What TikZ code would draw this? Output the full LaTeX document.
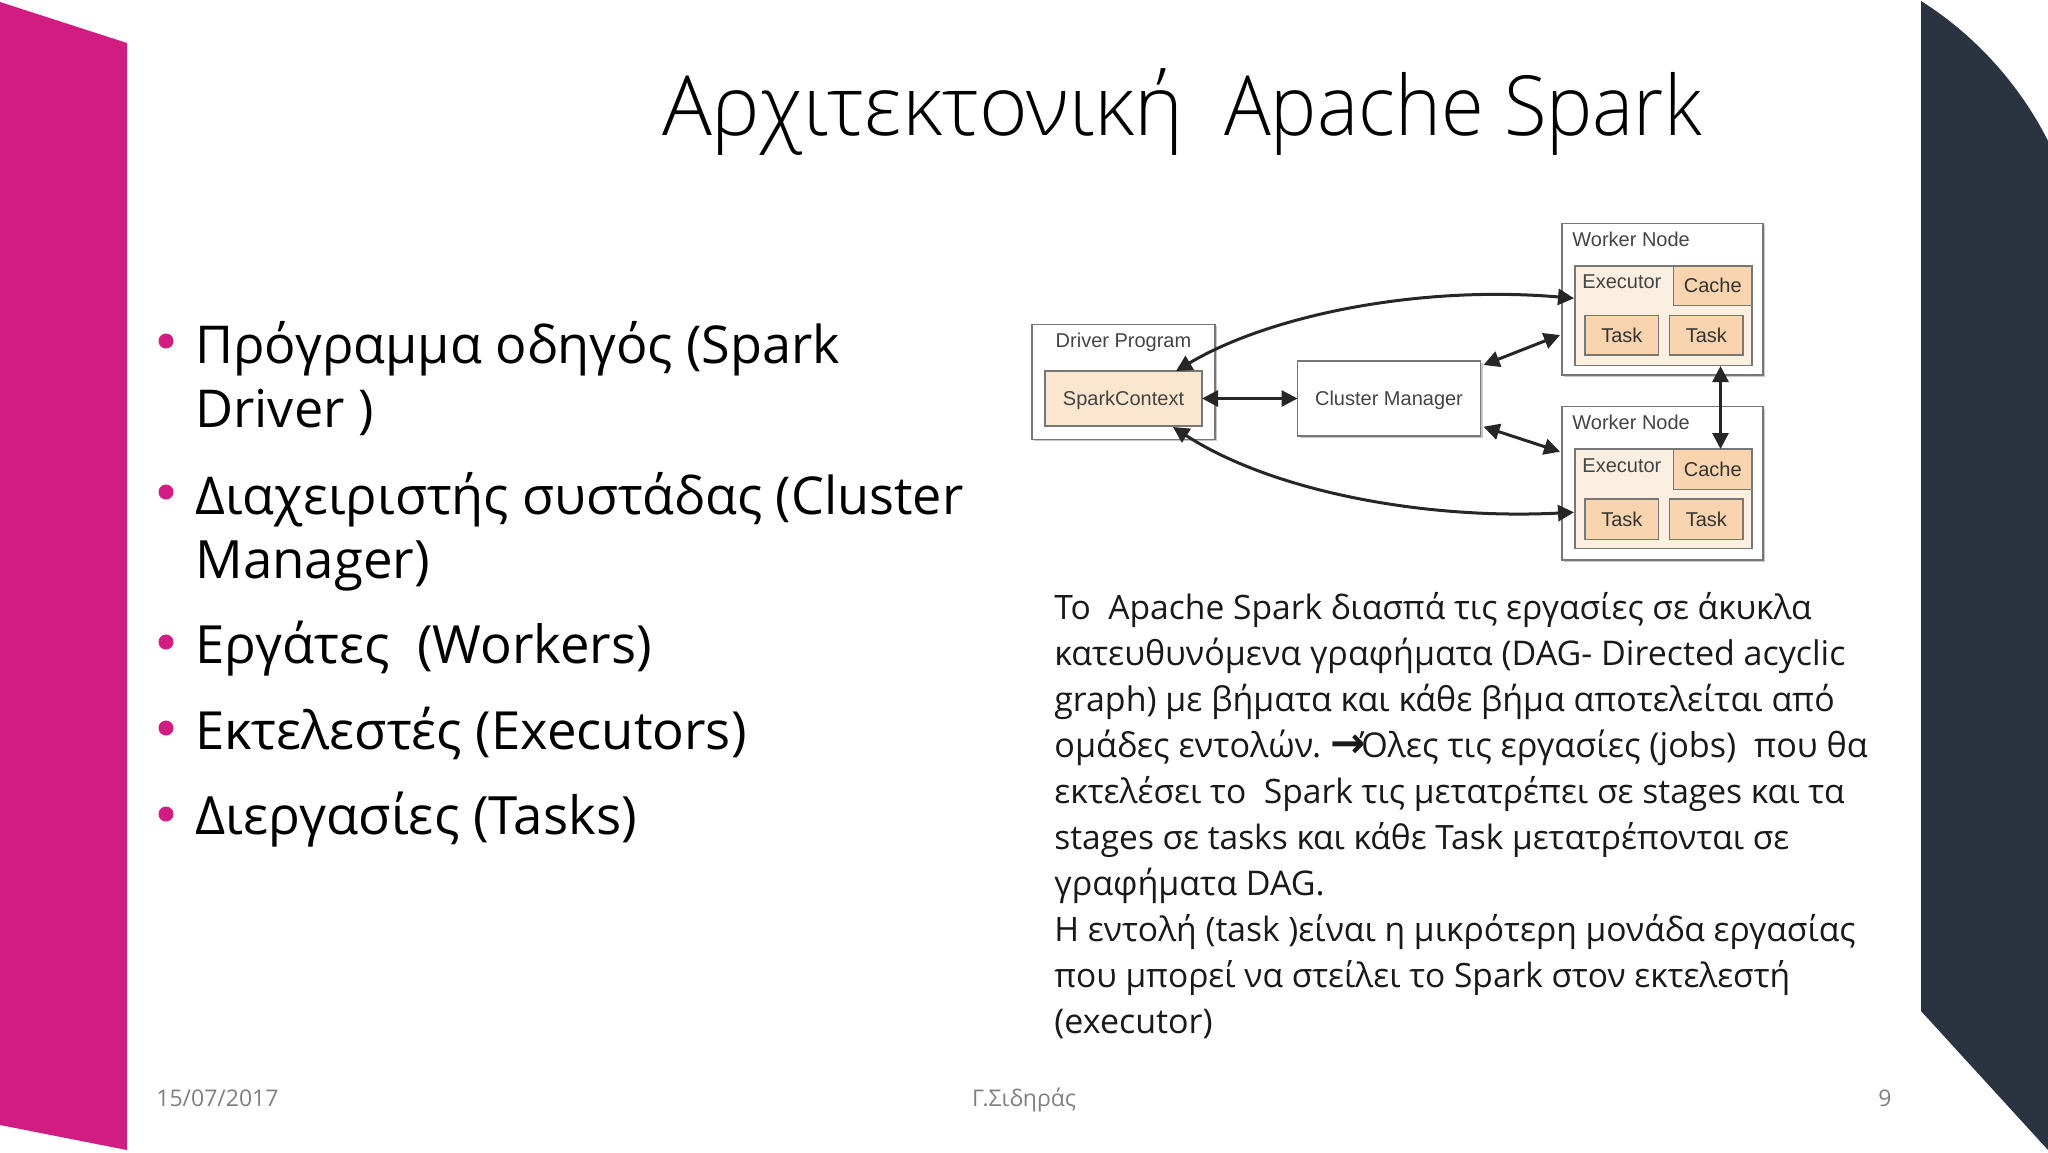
\documentclass[tikz,border=0pt]{standalone}
\usepackage{fontspec}
\setmainfont{Open Sans}
\newfontfamily\titlefont[FakeStretch=0.937]{Open Sans Light}
\newfontfamily\titlegreek{Open Sans Light}
\newfontfamily\diagfont{Liberation Sans}
\newfontfamily\arrowfont{DejaVu Sans}
\usetikzlibrary{arrows.meta,shadows}
\definecolor{pinkband}{HTML}{D11C82}
\definecolor{darkband}{HTML}{2A3440}
\definecolor{boxline}{HTML}{777777}
\definecolor{pale}{HTML}{FBEFE2}
\definecolor{peach}{HTML}{FBE6CF}
\definecolor{orange}{HTML}{F8D5AE}
\definecolor{difftext}{HTML}{444444}
\definecolor{foot}{HTML}{808080}
\newcommand{\psize}[1]{\fontsize{#1}{20}\selectfont}
\newcommand{\bsize}[1]{\fontsize{#1}{30}\selectfont}
\tikzset{
 x=0.5pt,y=-0.5pt,
 base/.style={rectangle,inner sep=0pt,outer sep=0pt,draw=boxline,line width=0.8pt,font=\diagfont\fontsize{10}{12}\selectfont,text=difftext},
 plainbox/.style={base,fill=white,general shadow={shadow xshift=1pt,shadow yshift=-1pt,fill=black!22}},
 execbox/.style={base,fill=pale},
 sparkbox/.style={base,fill=peach},
 taskbox/.style={base,fill=orange,text=black!80},
 lowtext/.style={text height=7pt,text depth=0pt},
 lab/.style={inner sep=0pt,font=\diagfont\fontsize{10}{12}\selectfont,text=difftext},
 link/.style={line width=1.5pt,black!85,{Triangle[length=8pt,width=8pt]}-{Triangle[length=8pt,width=8pt]}},
 titletext/.style={anchor=base,inner sep=0pt,font=\titlefont\fontsize{41.5}{50}\selectfont,text=black},
 bigline/.style={anchor=base west,inner sep=0pt,font=\fontsize{26.1}{30}\selectfont,text=black},
 para/.style={anchor=base west,inner sep=0pt,font=\fontsize{17.05}{20}\selectfont,text=black!90},
 bul/.style={circle,fill=pinkband,inner sep=0pt,minimum size=7.5pt},
 footer/.style={anchor=base,inner sep=0pt,font=\fontsize{11.5}{14}\selectfont,text=foot},
}
\begin{document}
\begin{tikzpicture}
\useasboundingbox (0,0) rectangle (2048,1152);
\fill[white] (0,0) rectangle (2048,1152);
\fill[pinkband] (0,2) -- (127,43) -- (127,1150) -- (0,1125) -- cycle;
\fill[darkband] (1921,1) .. controls (1975,35) and (2020,85) .. (2048,141) -- (2048,1150) -- (1921,1011) -- cycle;

\node[titletext] (title) at (1182,135) {{\titlegreek\fontsize{41.5}{50}\selectfont Αρχιτεκτονική} \ Apache Spark};

\node[bul] (b1) at (166,341) {};
\node[bul] (b2) at (166,492) {};
\node[bul] (b3) at (166,642) {};
\node[bul] (b4) at (166,728) {};
\node[bul] (b5) at (166,814) {};
\node[bigline] (l1) at (195,363) {Πρόγραμμα οδηγός (Spark};
\node[bigline] (l2) at (195,427) {Driver )};
\node[bigline] (l3) at (195,514) {Διαχειριστής συστάδας (Cluster};
\node[bigline] (l4) at (195,578) {\bsize{26.4}Manager)};
\node[bigline] (l5) at (195,663) {\bsize{26.33}Εργάτες \ (Workers)};
\node[bigline] (l6) at (195,749) {\bsize{26.3}Εκτελεστές (Executors)};
\node[bigline] (l7) at (195,834) {\bsize{26.4}Διεργασίες (Tasks)};

\node[para] (p1) at (1054,619) {\psize{16.8}Το \ Apache Spark διασπά τις εργασίες σε άκυκλα};
\node[para] (p2) at (1054,665) {\psize{17}κατευθυνόμενα γραφήματα (DAG- Directed acyclic};
\node[para] (p3) at (1054,711) {\psize{16.95}graph) με βήματα και κάθε βήμα αποτελείται από};
\node[para] (p4) at (1054,757) {\psize{17.1}ομάδες εντολών. \kern-1.5pt{\arrowfont\bfseries\fontsize{21}{20}\selectfont →}\kern-2.5pt Όλες τις εργασίες (jobs) \ που θα};
\node[para] (p5) at (1054,803) {\psize{16.8}εκτελέσει το \ Spark τις μετατρέπει σε stages και τα};
\node[para] (p6) at (1054,849) {\psize{16.75}stages σε tasks και κάθε Task μετατρέπονται σε};
\node[para] (p7) at (1054,895) {\psize{17}γραφήματα DAG.};
\node[para] (p8) at (1054,941) {\psize{16.8}Η εντολή (task )είναι η μικρότερη μονάδα εργασίας};
\node[para] (p9) at (1054,987) {\psize{16.75}που μπορεί να στείλει το Spark στον εκτελεστή};
\node[para] (p10) at (1054,1033) {\psize{17}(executor)};

\node[footer,anchor=base west] (date) at (156,1106) {15/07/2017};
\node[footer] (author) at (1024,1106) {Γ.Σιδηράς};
\node[footer,anchor=base east] (page) at (1892,1106) {9};

\node[plainbox,minimum width=91.5pt,minimum height=57.5pt] (driver) at (1123.5,381.8) {};
\node[lab] (driverlab) at (1123.5,342) {Driver Program};
\node[sparkbox,lowtext,minimum width=78.5pt,minimum height=27.7pt] (spark) at (1123.5,398.5) {SparkContext};
\node[plainbox,lowtext,minimum width=91.5pt,minimum height=37.3pt] (cluster) at (1389,398.5) {Cluster Manager};

\node[plainbox,minimum width=100.5pt,minimum height=75.8pt] (w1) at (1662.6,299.2) {};
\node[lab,anchor=west] (w1lab) at (1572,239) {Worker Node};
\node[execbox,minimum width=88.5pt,minimum height=49.7pt] (e1) at (1663.6,315.7) {};
\node[lab,anchor=west] (e1lab) at (1582,281.7) {Executor};
\node[taskbox,minimum width=39.3pt,minimum height=19.8pt] (c1) at (1712.8,285.8) {Cache};
\node[taskbox,minimum width=36.8pt,minimum height=19.8pt] (t1a) at (1621.8,335.2) {Task};
\node[taskbox,minimum width=36.8pt,minimum height=19.8pt] (t1b) at (1706.3,335.2) {Task};

\node[plainbox,minimum width=100.5pt,minimum height=76.7pt] (w2) at (1662.6,483.3) {};
\node[lab,anchor=west] (w2lab) at (1572,422.7) {Worker Node};
\node[execbox,minimum width=88.5pt,minimum height=49.8pt] (e2) at (1663.6,498.8) {};
\node[lab,anchor=west] (e2lab) at (1582,466) {Executor};
\node[taskbox,minimum width=39.3pt,minimum height=20.2pt] (c2) at (1712.8,469.2) {Cache};
\node[taskbox,minimum width=36.8pt,minimum height=20.3pt] (t2a) at (1621.8,519) {Task};
\node[taskbox,minimum width=36.8pt,minimum height=20.3pt] (t2b) at (1706.3,519) {Task};

\coordinate (sparkTop) at (1176,371);
\coordinate (sparkBot) at (1173,427);
\coordinate (e1left) at (1574,298.3);
\coordinate (e2left) at (1574,512.3);
\coordinate (clusterTop) at (1483.5,365);
\coordinate (clusterBot) at (1483.5,426.7);
\coordinate (w1edge) at (1560,335);
\coordinate (w2edge) at (1560,451.7);
\coordinate (e1bot) at (1720.5,366);
\coordinate (c2top) at (1720.5,449);

\draw[link] (sparkTop) .. controls (1270,315) and (1420,285) .. (e1left);
\draw[link] (sparkBot) .. controls (1270,490) and (1420,520) .. (e2left);
\draw[link] (spark.east) -- (cluster.west);
\draw[link] (clusterTop) -- (w1edge);
\draw[link] (clusterBot) -- (w2edge);
\draw[link] (e1bot) -- (c2top);
\end{tikzpicture}
\end{document}
